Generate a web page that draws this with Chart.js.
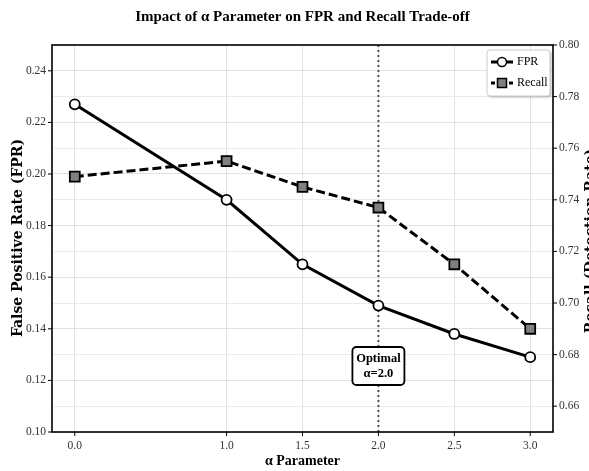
<!DOCTYPE html>
<html>
<head>
<meta charset="utf-8">
<script src="https://cdn.jsdelivr.net/npm/chart.js@4.4.0/dist/chart.umd.min.js"></script>
<style>
    html, body { margin: 0; padding: 0; background: #fff; }
    #wrap { width: 589px; height: 471px; }
</style>
</head>
<body>
<div id="wrap"><canvas id="chart" width="589" height="471"></canvas></div>
<script>
const alphaValues = [0.0, 1.0, 1.5, 2.0, 2.5, 3.0];
const fprValues = [0.227, 0.190, 0.165, 0.149, 0.138, 0.129];
const recallValues = [0.749, 0.755, 0.745, 0.737, 0.715, 0.690];
const fprTicks = [0.10, 0.12, 0.14, 0.16, 0.18, 0.20, 0.22, 0.24];
const recallTicks = [0.66, 0.68, 0.70, 0.72, 0.74, 0.76, 0.78, 0.80];
const optimalAlpha = 2.0;

const serif = "'Liberation Serif', serif";
const wideSerif = "'DejaVu Serif', serif";

const toPoints = (vals) => alphaValues.map((a, i) => ({ x: a, y: vals[i] }));

const dashedGrid = { color: '#dadada', lineWidth: 0.8, borderDash: [3, 2], drawTicks: false };
const solidGrid = { color: '#ebebeb', lineWidth: 1, drawTicks: false };

// custom drawing: title, axis titles, optimal line, annotation, legend, frame
const extras = {
    id: 'extras',
    beforeDatasetsDraw(chart) {
        const { ctx, chartArea: a, scales } = chart;
        const x = scales.x.getPixelForValue(optimalAlpha);
        ctx.save();
        ctx.strokeStyle = '#555';
        ctx.lineWidth = 2;
        ctx.setLineDash([2, 3]);
        ctx.beginPath();
        ctx.moveTo(x, a.top);
        ctx.lineTo(x, a.bottom);
        ctx.stroke();
        ctx.restore();
    },
    afterDraw(chart) {
        const { ctx, chartArea: a, scales } = chart;
        const midX = (a.left + a.right) / 2;
        ctx.save();

        // frame
        ctx.strokeStyle = '#000';
        ctx.lineWidth = 1.6;
        ctx.strokeRect(a.left, a.top, a.right - a.left, a.bottom - a.top);

        // tick marks
        ctx.lineWidth = 1;
        scales.y.ticks.forEach(t => {
            const py = scales.y.getPixelForValue(t.value);
            ctx.beginPath(); ctx.moveTo(a.left - 4, py); ctx.lineTo(a.left, py); ctx.stroke();
        });
        scales.y1.ticks.forEach(t => {
            const py = scales.y1.getPixelForValue(t.value);
            ctx.beginPath(); ctx.moveTo(a.right, py); ctx.lineTo(a.right + 4, py); ctx.stroke();
        });
        scales.x.ticks.forEach(t => {
            const px = scales.x.getPixelForValue(t.value);
            ctx.beginPath(); ctx.moveTo(px, a.bottom); ctx.lineTo(px, a.bottom + 4); ctx.stroke();
        });

        // title
        ctx.fillStyle = '#000';
        ctx.textAlign = 'center';
        ctx.textBaseline = 'middle';
        ctx.font = "bold 15px " + serif;
        ctx.fillText('Impact of α Parameter on FPR and Recall Trade-off', midX, 17);

        // x title
        ctx.font = "bold 14px " + serif;
        ctx.fillText('α Parameter', midX, 461);

        // left title
        ctx.save();
        ctx.translate(18, 238);
        ctx.rotate(-Math.PI / 2);
        ctx.font = "bold 14px " + wideSerif;
        ctx.fillText('False Positive Rate (FPR)', 0, 0);
        ctx.restore();

        // right title (clipped by canvas edge)
        ctx.save();
        ctx.translate(595, 241);
        ctx.rotate(-Math.PI / 2);
        ctx.textBaseline = 'alphabetic';
        ctx.font = "bold 14px " + wideSerif;
        ctx.fillText('Recall (Detection Rate)', 0, 0);
        ctx.restore();

        // annotation box
        const ax = scales.x.getPixelForValue(optimalAlpha);
        const bw = 52, bh = 38, by = 347;
        ctx.beginPath();
        ctx.roundRect(ax - bw / 2, by, bw, bh, 4);
        ctx.fillStyle = '#fff';
        ctx.fill();
        ctx.lineWidth = 1.8;
        ctx.strokeStyle = '#000';
        ctx.stroke();
        ctx.fillStyle = '#000';
        ctx.font = "bold 12.5px " + serif;
        ctx.fillText('Optimal', ax, by + 12);
        ctx.fillText('α=2.0', ax, by + 27);

        // legend
        const lx = 487, ly = 50, lw = 63, lh = 46;
        ctx.save();
        ctx.shadowColor = 'rgba(0,0,0,0.25)';
        ctx.shadowOffsetX = 1.5;
        ctx.shadowOffsetY = 1.5;
        ctx.shadowBlur = 2;
        ctx.beginPath();
        ctx.roundRect(lx, ly, lw, lh, 3);
        ctx.fillStyle = '#fff';
        ctx.fill();
        ctx.restore();
        ctx.beginPath();
        ctx.roundRect(lx, ly, lw, lh, 3);
        ctx.strokeStyle = '#ccc';
        ctx.lineWidth = 1;
        ctx.stroke();

        const rows = [
            { label: 'FPR', y: ly + 12, dash: [], marker: 'circle' },
            { label: 'Recall', y: ly + 33, dash: [4, 2], marker: 'square' }
        ];
        rows.forEach(r => {
            ctx.strokeStyle = '#000';
            ctx.lineWidth = 3;
            ctx.setLineDash(r.dash);
            ctx.beginPath();
            ctx.moveTo(lx + 4, r.y);
            ctx.lineTo(lx + 26, r.y);
            ctx.stroke();
            ctx.setLineDash([]);
            ctx.lineWidth = 1.5;
            ctx.beginPath();
            if (r.marker === 'circle') {
                ctx.arc(lx + 15, r.y, 4.5, 0, Math.PI * 2);
                ctx.fillStyle = '#fff';
            } else {
                ctx.rect(lx + 10.5, r.y - 4.5, 9, 9);
                ctx.fillStyle = '#808080';
            }
            ctx.fill();
            ctx.stroke();
            ctx.fillStyle = '#000';
            ctx.textAlign = 'left';
            ctx.font = "12px " + serif;
            ctx.fillText(r.label, lx + 30, r.y);
        });

        ctx.restore();
    }
};

new Chart(document.getElementById('chart'), {
    type: 'line',
    data: {
        datasets: [
            {
                label: 'FPR',
                data: toPoints(fprValues),
                yAxisID: 'y',
                borderColor: '#000',
                borderWidth: 3,
                pointStyle: 'circle',
                pointRadius: 5,
                pointBackgroundColor: '#fff',
                pointBorderColor: '#000',
                pointBorderWidth: 1.8,
                tension: 0
            },
            {
                label: 'Recall',
                data: toPoints(recallValues),
                yAxisID: 'y1',
                borderColor: '#000',
                borderWidth: 3,
                borderDash: [9, 4],
                pointStyle: 'rect',
                pointRadius: 7,
                pointBackgroundColor: '#808080',
                pointBorderColor: '#000',
                pointBorderWidth: 1.8,
                tension: 0
            }
        ]
    },
    options: {
        responsive: false,
        animation: false,
        layout: { padding: { top: 45, left: 0, right: 0, bottom: 0 } },
        plugins: {
            legend: { display: false },
            title: { display: false },
            tooltip: { enabled: false }
        },
        scales: {
            x: {
                type: 'linear',
                min: -0.15,
                max: 3.15,
                afterBuildTicks: (s) => { s.ticks = alphaValues.map(v => ({ value: v })); },
                afterFit: (s) => { s.height = 39; },
                grid: dashedGrid,
                border: { display: false },
                ticks: {
                    padding: 7,
                    color: '#333',
                    font: { family: serif, size: 11.5 },
                    callback: (v) => Number(v).toFixed(1)
                }
            },
            y: {
                position: 'left',
                min: 0.10,
                max: 0.25,
                afterBuildTicks: (s) => { s.ticks = fprTicks.map(v => ({ value: v })); },
                afterFit: (s) => { s.width = 52; },
                grid: dashedGrid,
                border: { display: false },
                ticks: {
                    padding: 6,
                    color: '#333',
                    font: { family: serif, size: 11.5 },
                    callback: (v) => Number(v).toFixed(2)
                }
            },
            y1: {
                position: 'right',
                min: 0.65,
                max: 0.80,
                afterBuildTicks: (s) => { s.ticks = recallTicks.map(v => ({ value: v })); },
                afterFit: (s) => { s.width = 36; },
                grid: solidGrid,
                border: { display: false },
                ticks: {
                    padding: 6,
                    color: '#333',
                    font: { family: serif, size: 11.5 },
                    callback: (v) => Number(v).toFixed(2)
                }
            }
        }
    },
    plugins: [extras]
});
</script>
</body>
</html>
